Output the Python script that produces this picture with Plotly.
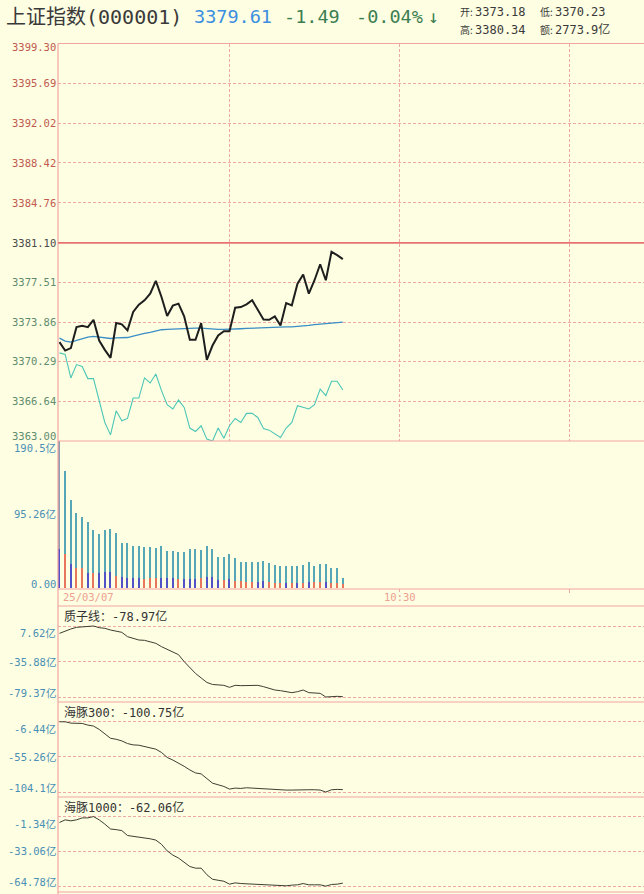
import plotly.graph_objects as go

W, H = 644, 894

# ---------------- data ----------------
MINUTES = list(range(51))  # 09:30 ... 10:20, one point per minute
PREV_CLOSE = 3381.10

PRICE = [3372.03, 3371.26, 3371.48, 3373.40, 3373.52, 3373.40, 3374.07, 3372.18, 3371.32, 3370.59,
         3373.77, 3373.65, 3373.10, 3374.78, 3375.45, 3375.85, 3376.46, 3377.62, 3376.15, 3374.41,
         3375.36, 3375.54, 3374.38, 3372.24, 3372.24, 3373.77, 3370.40, 3371.72, 3372.64, 3373.03,
         3373.03, 3375.17, 3375.23, 3375.48, 3375.85, 3374.93, 3374.10, 3374.07, 3374.38, 3373.55,
         3375.60, 3375.39, 3377.37, 3378.20, 3376.46, 3377.68, 3379.14, 3377.68, 3380.28, 3379.97,
         3379.61]

AVG_PRICE = [3372.39, 3372.12, 3372.03, 3372.18, 3372.39, 3372.49, 3372.55, 3372.49, 3372.42, 3372.36,
             3372.42, 3372.45, 3372.45, 3372.58, 3372.73, 3372.82, 3372.91, 3373.04, 3373.16, 3373.19,
             3373.22, 3373.28, 3373.31, 3373.31, 3373.31, 3373.31, 3373.25, 3373.19, 3373.19, 3373.19,
             3373.19, 3373.22, 3373.25, 3373.28, 3373.31, 3373.34, 3373.37, 3373.40, 3373.40, 3373.40,
             3373.43, 3373.43, 3373.46, 3373.52, 3373.55, 3373.62, 3373.68, 3373.74, 3373.80, 3373.86,
             3373.86]

LEAD_LINE = [3371.05, 3370.90, 3368.76, 3369.98, 3369.80, 3368.70, 3368.70, 3366.62, 3364.69, 3363.56,
             3365.76, 3364.85, 3365.06, 3366.92, 3366.92, 3368.76, 3368.30, 3369.12, 3367.60, 3366.31,
             3365.92, 3366.74, 3366.07, 3364.18, 3363.87, 3364.39, 3363.17, 3363.00, 3364.18, 3363.26,
             3364.39, 3365.06, 3364.69, 3365.52, 3365.52, 3365.15, 3364.14, 3363.99, 3363.63, 3363.32,
             3364.18, 3364.69, 3366.22, 3366.07, 3365.92, 3366.31, 3367.75, 3367.14, 3368.45, 3368.45,
             3367.66]

VOL_TOTAL = [190.5, 151.6, 113.9, 97.4, 92.2, 85.7, 74.9, 69.7, 74.9, 75.8,
             71.4, 57.6, 57.6, 54.1, 54.6, 53.3, 53.3, 51.1, 53.7, 48.1,
             48.1, 46.8, 46.8, 49.8, 49.8, 48.9, 54.6, 50.2, 40.3, 39.4,
             43.7, 38.1, 33.8, 32.9, 32.9, 32.9, 34.2, 32.5, 29.4, 28.6,
             28.6, 28.1, 28.1, 29.0, 32.9, 28.1, 30.3, 31.2, 26.0, 25.1,
             12.1]
VOL_SUB = [49.8, 43.7, 30.3, 25.1, 25.1, 19.5, 18.6, 19.5, 20.8, 20.8,
           15.6, 13.4, 12.6, 12.6, 12.6, 11.3, 12.1, 12.1, 13.0, 13.0,
           12.1, 10.8, 11.3, 11.7, 11.3, 12.1, 14.3, 14.3, 10.0, 10.4,
           10.8, 9.1, 8.2, 7.4, 7.4, 7.8, 8.2, 7.8, 6.5, 6.5,
           6.5, 6.1, 6.5, 6.5, 6.9, 6.9, 7.4, 7.4, 6.5, 5.6,
           4.8]
VOL_SUB_DIR = ['b', 'r', 'b', 'r', 'r', 'b', 'r', 'b', 'b', 'b',
               'r', 'b', 'b', 'b', 'b', 'r', 'r', 'r', 'b', 'b',
               'b', 'r', 'b', 'b', 'b', 'r', 'b', 'b', 'b', 'r',
               'b', 'r', 'r', 'r', 'r', 'b', 'b', 'r', 'r', 'r',
               'b', 'r', 'b', 'r', 'b', 'r', 'r', 'b', 'r', 'r',
               'r']

ZHIZI = [-1.36, 1.49, 3.94, 5.99, 6.80, 6.80, 7.62, 5.58, 4.76, 2.72,
         1.09, -0.13, -5.45, -7.49, -9.53, -9.94, -11.98, -13.61, -17.70, -20.96,
         -23.83, -27.50, -36.00, -43.50, -50.50, -56.00, -61.50, -64.00, -64.67, -65.07,
         -67.52, -65.07, -65.49, -65.49, -65.07, -65.07, -66.71, -68.75, -70.79, -71.61,
         -72.42, -74.06, -72.84, -70.79, -74.06, -74.47, -74.87, -79.37, -78.55, -78.55,
         -78.97]
HAITUN300 = [-6.44, -6.44, -8.27, -8.73, -8.73, -11.02, -12.40, -16.99, -22.95, -29.37,
             -30.74, -33.03, -36.70, -38.53, -38.99, -40.83, -42.20, -44.49, -49.08, -55.96,
             -59.63, -63.75, -68.34, -73.38, -77.51, -78.89, -85.76, -91.72, -94.01, -96.30,
             -99.97, -98.60, -99.06, -98.14, -98.60, -99.06, -100.43, -100.89, -101.35, -101.35,
             -101.35, -101.35, -100.89, -100.43, -100.89, -100.89, -101.35, -104.10, -100.89, -100.43,
             -100.75]
HAITUN1000 = [-6.70, -4.32, -5.21, -4.32, -2.53, -2.53, -1.34, -4.32, -8.19, -12.66,
              -13.25, -14.14, -18.61, -19.21, -19.81, -20.40, -21.60, -22.78, -26.65, -32.61,
              -36.48, -39.16, -43.04, -46.91, -48.40, -48.40, -54.35, -58.52, -59.42, -60.31,
              -62.99, -61.80, -62.40, -62.70, -62.70, -62.99, -63.89, -63.89, -64.48, -64.48,
              -64.48, -63.89, -63.59, -62.40, -63.59, -63.59, -63.59, -64.78, -63.29, -62.99,
              -62.06]

PRICE_TICKS = [3399.30, 3395.69, 3392.02, 3388.42, 3384.76, 3381.10, 3377.51, 3373.86, 3370.29, 3366.64, 3363.00]
PRICE_TICK_TEXT = ["3399.30", "3395.69", "3392.02", "3388.42", "3384.76", "3381.10",
                   "3377.51", "3373.86", "3370.29", "3366.64", "3363.00"]
VOL_TICKS = [190.5, 95.26, 0.0]
VOL_TICK_TEXT = ["190.5亿", "95.26亿", "0.00"]
ZHIZI_TICKS = [7.62, -35.88, -79.37]
ZHIZI_TEXT = ["7.62亿", "-35.88亿", "-79.37亿"]
H300_TICKS = [-6.44, -55.26, -104.1]
H300_TEXT = ["-6.44亿", "-55.26亿", "-104.1亿"]
H1000_TICKS = [-1.34, -33.06, -64.78]
H1000_TEXT = ["-1.34亿", "-33.06亿", "-64.78亿"]
TIME_GRID = [30, 60, 90]  # 10:00, 10:30, 11:00

HEADER = {"name": "上证指数(000001)", "last": "3379.61", "chg": "-1.49", "pct": "-0.04%",
          "open": "3373.18", "low": "3370.23", "high": "3380.34", "amount": "2773.9亿"}
PANEL_TITLES = ["质子线：-78.97亿", "海豚300：-100.75亿", "海豚1000：-62.06亿"]

# ---------------- style ----------------
BG = "#FEFEE2"
PINK = "#F2A4A4"
GRID = "#EFA8A8"
DASH = "3px,2px"
MONO = "DejaVu Sans Mono, Noto Sans CJK SC, sans-serif"
CJK = "Noto Sans CJK SC, DejaVu Sans Mono, sans-serif"
LBL_BLUE = "#4A8FB5"
UP_RED = "#C05A50"
DN_GREEN = "#5E8C6E"

def py(p):
    return 1 - p / H

def px(p):
    return p / W

X0 = 58.0
PX_PER_MIN = 170 / 30
MIN0_PX = 59.5
XR = [(X0 - MIN0_PX) / PX_PER_MIN, (W - MIN0_PX) / PX_PER_MIN]
XDOM = [px(X0), 1.0]

# panels (pixel rows)
P_TOP, P_BOT = 43.5, 441
V_TOP, V_BOT = 441, 589
T_BOT = 606
I1 = (606, 702)
I2 = (702, 797)
I3 = (797, 892)

def ind_range(vals, top, bot):
    mx, mn = max(vals), min(vals)
    per = (mx - mn) / 71.0
    return [mn - (bot - (top + 20) - 71) * per, mx + 20 * per]

fig = go.Figure()

# price panel
fig.add_trace(go.Scatter(x=MINUTES, y=LEAD_LINE, mode="lines", line=dict(color="#4CC6B6", width=1.1),
                         xaxis="x", yaxis="y", hoverinfo="skip"))
fig.add_trace(go.Scatter(x=MINUTES, y=AVG_PRICE, mode="lines", line=dict(color="#3A8EC6", width=1.3),
                         xaxis="x", yaxis="y", hoverinfo="skip"))
fig.add_trace(go.Scatter(x=MINUTES, y=PRICE, mode="lines", line=dict(color="#1E1E1E", width=2),
                         xaxis="x", yaxis="y", hoverinfo="skip"))

# volume panel
tot_colors = ["#8C9EAE"] + ["#55A6B6"] * (len(VOL_TOTAL) - 1)
sub_colors = ["#E8765C" if d == "r" else "#5252C8" for d in VOL_SUB_DIR]
fig.add_trace(go.Bar(x=MINUTES, y=VOL_TOTAL, width=0.2, marker=dict(color=tot_colors, line=dict(width=0)),
                     xaxis="x2", yaxis="y2", hoverinfo="skip"))
fig.add_trace(go.Bar(x=MINUTES, y=VOL_SUB, width=0.2, marker=dict(color=sub_colors, line=dict(width=0)),
                     xaxis="x2", yaxis="y2", hoverinfo="skip"))

# indicator panels
for vals, xa_, ya_ in [(ZHIZI, "x3", "y3"), (HAITUN300, "x4", "y4"), (HAITUN1000, "x5", "y5")]:
    fig.add_trace(go.Scatter(x=MINUTES, y=vals, mode="lines", line=dict(color="#3E3E32", width=1),
                             xaxis=xa_, yaxis=ya_, hoverinfo="skip"))

def xa(anchor, grid=False):
    return dict(domain=XDOM, range=XR, anchor=anchor, showgrid=grid, tickvals=TIME_GRID,
                gridcolor=GRID, griddash=DASH, gridwidth=1, showticklabels=False,
                zeroline=False, showline=False, ticks="", fixedrange=True)

def ya(top, bot, rng, tickvals, grid=True):
    return dict(domain=[py(bot), py(top)], range=rng, tickvals=tickvals, showgrid=grid,
                gridcolor=GRID, griddash=DASH, gridwidth=1, showticklabels=False,
                zeroline=False, showline=False, ticks="", fixedrange=True)

vol_per = 190.5 / (587.5 - V_TOP)
layout = dict(
    width=W, height=H, margin=dict(l=0, r=0, t=0, b=0),
    paper_bgcolor=BG, plot_bgcolor=BG, showlegend=False, barmode="overlay", bargap=0,
    xaxis=xa("y", grid=True), xaxis2=xa("y2"), xaxis3=xa("y3"), xaxis4=xa("y4"), xaxis5=xa("y5"),
    yaxis=ya(P_TOP, P_BOT, [PRICE_TICKS[-1], PRICE_TICKS[0]],
             [t for t in PRICE_TICKS if t != PREV_CLOSE]),
    yaxis2=ya(V_TOP, V_BOT, [-(V_BOT - 587.5) * vol_per, 190.5], VOL_TICKS, grid=False),
    yaxis3=ya(I1[0], I1[1], ind_range(ZHIZI, *I1), ZHIZI_TICKS),
    yaxis4=ya(I2[0], I2[1], ind_range(HAITUN300, I2[0] - 1, I2[1]), H300_TICKS),
    yaxis5=ya(I3[0], I3[1], ind_range(HAITUN1000, I3[0] - 2, I3[1]), H1000_TICKS),
)
fig.update_layout(**layout)

shapes = []
for yp in [P_TOP, P_BOT, V_BOT, T_BOT, I2[0], I3[0], I3[1]]:
    shapes.append(dict(type="line", xref="paper", yref="paper", x0=px(X0), x1=1, y0=py(yp), y1=py(yp),
                       line=dict(color=PINK, width=1.2)))
shapes.append(dict(type="line", xref="paper", yref="paper", x0=px(X0), x1=px(X0), y0=py(P_TOP), y1=0,
                   line=dict(color=PINK, width=1.2)))
shapes.append(dict(type="line", xref="paper", yref="y", x0=px(X0), x1=1, y0=PREV_CLOSE, y1=PREV_CLOSE,
                   line=dict(color="#E87272", width=1.8)))
# time-row ticks
shapes.append(dict(type="line", xref="x2", yref="paper", x0=60, x1=60, y0=py(V_BOT), y1=py(V_BOT + 7),
                   line=dict(color=GRID, width=1, dash="dot")))
shapes.append(dict(type="line", xref="x2", yref="paper", x0=90, x1=90, y0=py(V_BOT), y1=py(V_BOT + 4),
                   line=dict(color=GRID, width=1)))
fig.update_layout(shapes=shapes)

ann = []
def text(x, y, s, size, color, family=MONO, xanchor="left", xref="paper", yref="paper", yshift=0):
    ann.append(dict(x=x, y=y, xref=xref, yref=yref, text=s, showarrow=False, xanchor=xanchor,
                    yanchor="middle", yshift=yshift, font=dict(size=size, color=color, family=family)))

# header
text(px(4), py(16.5), HEADER["name"], 20, "#3A3A3A", family=MONO)
text(px(192), py(16.5), HEADER["last"], 18.5, "#3C8EE0")
text(px(282), py(16.5), HEADER["chg"], 18.5, "#3C7E52")
text(px(354), py(16.5), HEADER["pct"], 18.5, "#3C7E52")
text(px(426), py(16.5), "↓", 18, "#3C7E52")
for lbl, val, xx, yy in [("开:", HEADER["open"], 458, 12), ("低:", HEADER["low"], 538, 12),
                         ("高:", HEADER["high"], 458, 30), ("额:", HEADER["amount"], 538, 30)]:
    text(px(xx), py(yy), lbl, 10, "#3A3A3A", family=CJK)
    text(px(xx + 15), py(yy), val, 12, "#3A3A3A")

# price axis labels
for v, s in zip(PRICE_TICKS, PRICE_TICK_TEXT):
    c = UP_RED if v > PREV_CLOSE else ("#4A4A4A" if v == PREV_CLOSE else DN_GREEN)
    sh = -4 if v == PRICE_TICKS[0] else (5 if v == PRICE_TICKS[-1] else 0)
    text(px(57.5), v, s, 10.5, c, xanchor="right", yref="y", yshift=sh)

# volume axis labels
for v, s in zip(VOL_TICKS, VOL_TICK_TEXT):
    sh = -7 if v == VOL_TICKS[0] else (4 if v == 0 else 0)
    text(px(57.5), v, s, 10.5, LBL_BLUE, xanchor="right", yref="y2", yshift=sh)

# time labels
text(px(61), py(597), "25/03/07", 10.5, "#EFA090")
text(60, py(597), "10:30", 10.5, "#EFA090", xanchor="center", xref="x2")

# indicator labels
for (ticks, texts, yr), title, (top, bot) in zip(
        [(ZHIZI_TICKS, ZHIZI_TEXT, "y3"), (H300_TICKS, H300_TEXT, "y4"), (H1000_TICKS, H1000_TEXT, "y5")],
        PANEL_TITLES, [I1, I2, I3]):
    for i, (v, s) in enumerate(zip(ticks, texts)):
        sh = -7 if i == 0 else (4 if i == 2 else 0)
        text(px(57.5), v, s, 10.5, LBL_BLUE, xanchor="right", yref=yr, yshift=sh)
    text(px(62), py(top + 10.5), title, 12, "#333333")

fig.update_layout(annotations=ann)
fig.write_html("out.html")
